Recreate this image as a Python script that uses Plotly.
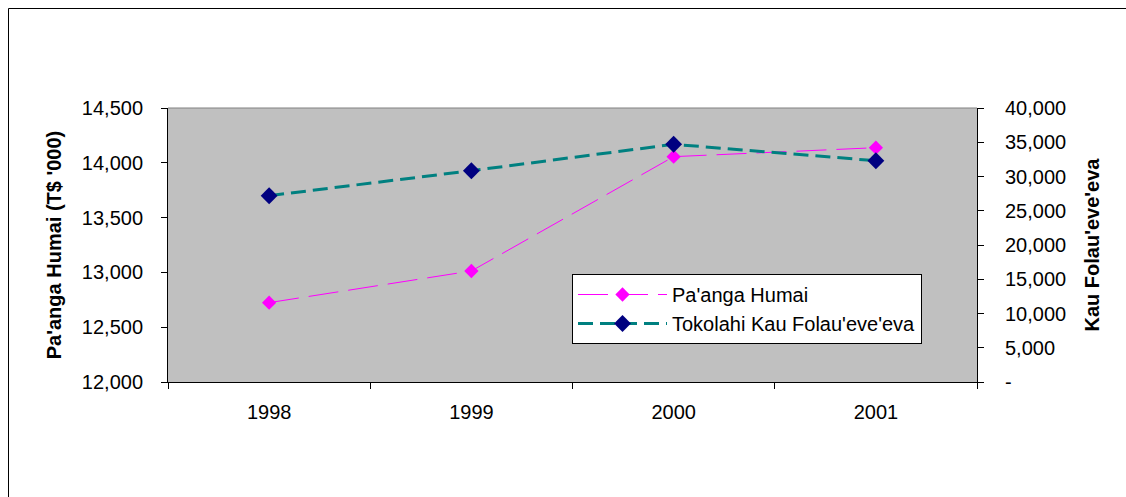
import plotly.graph_objects as go

years = ["1998", "1999", "2000", "2001"]
paanga_humai = [12724, 13013, 14056, 14138]
tokolahi = [27200, 30850, 34700, 32300]
left_ticks = [12000, 12500, 13000, 13500, 14000, 14500]
left_labels = ["12,000", "12,500", "13,000", "13,500", "14,000", "14,500"]
right_ticks = [0, 5000, 10000, 15000, 20000, 25000, 30000, 35000, 40000]
right_labels = ["-", "5,000", "10,000", "15,000", "20,000", "25,000", "30,000", "35,000", "40,000"]

FONT = "Liberation Sans, Arial, sans-serif"
FS = 20

fig = go.Figure()
fig.add_trace(go.Scatter(
    x=years, y=paanga_humai, name="Pa'anga Humai", mode="lines+markers",
    line=dict(color="#FF00FF", width=1, dash="30px,10px"),
    marker=dict(symbol="diamond", size=11, color="#FF00FF"),
    yaxis="y"))
fig.add_trace(go.Scatter(
    x=years, y=tokolahi, name="Tokolahi Kau Folau'eve'eva", mode="lines+markers",
    line=dict(color="#008080", width=3, dash="15px,7px"),
    marker=dict(symbol="diamond", size=13, color="#000080"),
    yaxis="y2"))

W, H = 1126, 497
L, R, T, B = 168, 977, 108, 382
pw, ph = R - L, B - T


def px(x):
    return (x - L) / pw


def py(y):
    return (B - y) / ph


fig.update_layout(
    width=W, height=H,
    margin=dict(l=L, r=W - R, t=T, b=H - B, autoexpand=False),
    paper_bgcolor="white", plot_bgcolor="#C0C0C0",
    font=dict(family=FONT, size=FS, color="black"),
    showlegend=True,
    legend=dict(x=px(572), y=py(274), xanchor="left", yanchor="top",
                bgcolor="white", bordercolor="black", borderwidth=1,
                font=dict(family=FONT, size=FS), tracegroupgap=0,
                itemwidth=89),
    xaxis=dict(type="category", range=[-0.5, 3.5], showgrid=False,
               showline=True, linecolor="black", linewidth=1,
               ticks="outside", tickson="boundaries", ticklen=6, tickcolor="black",
               ticklabelstandoff=12,
               tickfont=dict(family=FONT, size=FS), zeroline=False),
    yaxis=dict(range=[12000, 14500], tickvals=left_ticks, ticktext=left_labels,
               showgrid=False, showline=True, linecolor="black", linewidth=1,
               ticks="outside", ticklen=6, tickcolor="black", zeroline=False,
               ticklabelstandoff=14,
               tickfont=dict(family=FONT, size=FS),
               title=dict(text="<b>Pa'anga Humai (T$ '000)</b>",
                          font=dict(family=FONT, size=FS), standoff=14)),
    yaxis2=dict(range=[0, 40000], overlaying="y", side="right",
                tickvals=right_ticks, ticktext=right_labels,
                showgrid=False, showline=True, linecolor="black", linewidth=1,
                ticks="outside", ticklen=6, tickcolor="black", zeroline=False,
                ticklabelstandoff=17,
                tickfont=dict(family=FONT, size=FS),
                title=dict(text="<b>Kau Folau'eve'eva</b>",
                           font=dict(family=FONT, size=FS), standoff=19)),
    shapes=[
        dict(type="line", xref="paper", yref="paper", x0=0, x1=1, y0=1, y1=1,
             line=dict(color="#808080", width=1)),
        dict(type="rect", xref="paper", yref="paper",
             x0=px(8.5), x1=px(1160), y0=py(8.5), y1=py(540),
             line=dict(color="black", width=1)),
    ],
)

fig.write_html(
    "out.html",
    config={"displayModeBar": False},
    post_script="document.body.style.margin='0';document.body.style.overflow='hidden';",
)
